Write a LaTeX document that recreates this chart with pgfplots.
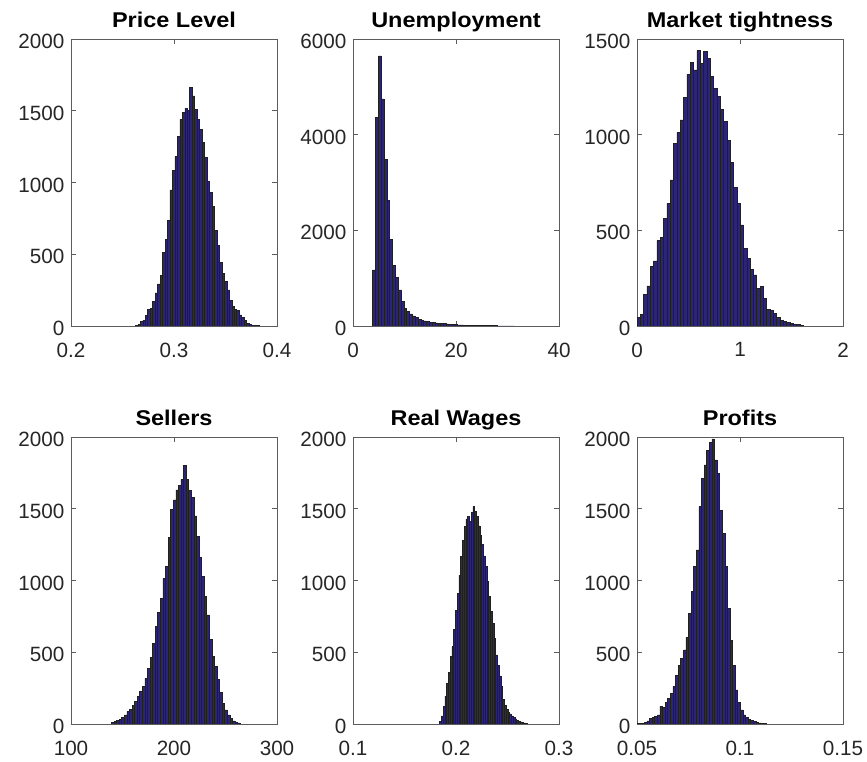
\documentclass[border=0pt]{standalone}
\usepackage{fontspec}
\setmainfont{Liberation Sans}
\newfontfamily\titlefont[FakeStretch=1.1]{Liberation Sans}
\usepackage{pgfplots}
\pgfplotsset{compat=1.18}

\definecolor{barfill}{RGB}{44,37,116}
\definecolor{baredge}{RGB}{32,32,32}
\definecolor{axgray}{RGB}{38,38,38}

\pgfplotsset{
  histax/.style={
    scale only axis,
    width=154.5pt, height=215.25pt,
    anchor=south west,
    axis line style={draw=axgray!75, line width=0.55pt},
    tick style={draw=axgray!75, line width=0.55pt},
    major tick length=3.75pt,
    tick align=inside,
    xtick pos=both, ytick pos=both,
    tick label style={font=\fontsize{15.5}{17}\selectfont, text=axgray},
    xticklabel style={yshift=-9pt},
    yticklabel style={xshift=-1.4pt, yshift=-1.8pt},
    title style={font=\titlefont\fontsize{16}{18}\selectfont\bfseries, at={(0.5,1)}, anchor=base, yshift=2.3pt},
    scaled ticks=false,
    ymin=0,
  },
  histbar/.style={
    ybar, bar shift=0pt, bar width=#1,
    fill=barfill, draw=baredge, line width=0.42pt,
  },
}

\begin{document}
\begin{tikzpicture}
\useasboundingbox (0,0) rectangle (650.25pt,571.5pt);

% ---------------- Price Level ----------------
\begin{axis}[histax, at={(53.25pt,327pt)},
  title={Price Level},
  xmin=0.2, xmax=0.4, ymax=2000,
  xtick={0.2,0.3,0.4}, xticklabels={0.2,0.3,0.4},
  ytick={0,500,1000,1500,2000}, yticklabels={0,500,1000,1500,2000}]
\addplot[histbar=0.0024] coordinates {
(0.2637,5) (0.2661,10) (0.2685,30) (0.2709,40) (0.2733,75)
(0.2757,118) (0.2781,125) (0.2805,174) (0.2829,230) (0.2853,293)
(0.2877,355) (0.2901,511) (0.2925,606) (0.2949,738) (0.2973,948)
(0.2997,1082) (0.3021,1180) (0.3045,1319) (0.3069,1440) (0.3093,1489)
(0.3117,1517) (0.3141,1505) (0.3165,1663) (0.3189,1603) (0.3213,1510)
(0.3237,1440) (0.3261,1370) (0.3285,1277) (0.3309,1175) (0.3333,1006)
(0.3357,932) (0.3381,831) (0.3405,664) (0.3429,564) (0.3453,441)
(0.3477,367) (0.3501,309) (0.3525,251) (0.3549,181) (0.3573,135)
(0.3597,116) (0.3621,107) (0.3645,77) (0.3669,60) (0.3693,37)
(0.3717,19) (0.3741,10) (0.3765,5) (0.3789,3) (0.3813,2)
};
\end{axis}

% ---------------- Unemployment ----------------
\begin{axis}[histax, at={(264.75pt,327pt)},
  title={Unemployment},
  xmin=0, xmax=40, ymax=6000,
  xtick={0,20,40}, xticklabels={0,20,40},
  ytick={0,2000,4000,6000}, yticklabels={0,2000,4000,6000}]
\addplot[histbar=0.55] coordinates {
(4.10,1171) (4.65,4363) (5.20,5645) (5.75,4746) (6.30,3485)
(6.85,2620) (7.40,1805) (7.95,1268) (8.50,1017) (9.05,753)
(9.60,509) (10.15,369) (10.70,300) (11.25,251) (11.80,209)
(12.35,181) (12.90,146) (13.45,125) (14.00,105) (14.55,90)
(15.10,77) (15.65,70) (16.20,63) (16.75,56) (17.30,56)
(17.85,49) (18.40,42) (18.95,35) (19.50,30) (20.05,28)
(20.60,25) (21.15,22) (21.70,20) (22.25,18) (22.80,16)
(23.35,14) (23.90,12) (24.45,11) (25.00,10) (25.55,9)
(26.10,8) (26.65,7) (27.20,6) (27.75,5) (28.30,4)
(28.85,4) (29.40,3) (29.95,2) (30.50,2) (31.05,1)
};
\end{axis}

% ---------------- Market tightness ----------------
\begin{axis}[histax, at={(477.75pt,327pt)},
  title={Market tightness},
  xmin=0, xmax=2, ymax=1500,
  xtick={0,1,2}, xticklabels={0,1,2},
  ytick={0,500,1000,1500}, yticklabels={0,500,1000,1500}]
\addplot[histbar=0.0323] coordinates {
(0.0160,45) (0.0483,61) (0.0806,166) (0.1129,209) (0.1452,310)
(0.1775,340) (0.2098,446) (0.2421,463) (0.2744,563) (0.3067,641)
(0.3390,763) (0.3713,955) (0.4036,1011) (0.4359,1077) (0.4682,1195)
(0.5005,1316) (0.5328,1378) (0.5651,1338) (0.5974,1439) (0.6297,1373)
(0.6620,1434) (0.6943,1397) (0.7266,1303) (0.7589,1242) (0.7912,1199)
(0.8235,1133) (0.8558,1068) (0.8881,972) (0.9204,854) (0.9527,725)
(0.9850,641) (1.0173,528) (1.0496,406) (1.0819,354) (1.1142,296)
(1.1465,267) (1.1788,195) (1.2111,206) (1.2434,145) (1.2757,87)
(1.3080,80) (1.3403,66) (1.3726,45) (1.4049,31) (1.4372,23)
(1.4695,17) (1.5018,14) (1.5341,10) (1.5664,7) (1.5987,5)
};
\end{axis}

% ---------------- Sellers ----------------
\begin{axis}[histax, at={(53.25pt,28.5pt)},
  title={Sellers},
  xmin=100, xmax=300, ymax=2000,
  xtick={100,200,300}, xticklabels={100,200,300},
  ytick={0,500,1000,1500,2000}, yticklabels={0,500,1000,1500,2000}]
\addplot[histbar=2.5] coordinates {
(140.5,9) (143,16) (145.5,23) (148,33) (150.5,44)
(153,63) (155.5,86) (158,102) (160.5,132) (163,160)
(165.5,190) (168,225) (170.5,260) (173,318) (175.5,388)
(178,465) (180.5,562) (183,678) (185.5,776) (188,876)
(190.5,1015) (193,1096) (195.5,1301) (198,1496) (200.5,1561)
(203,1631) (205.5,1663) (208,1705) (210.5,1800) (213,1705)
(215.5,1626) (218,1580) (220.5,1450) (223,1310) (225.5,1162)
(228,1027) (230.5,887) (233,760) (235.5,590) (238,469)
(240.5,404) (243,311) (245.5,218) (248,144) (250.5,98)
(253,63) (255.5,39) (258,21) (260.5,12) (263,7)
};
\end{axis}

% ---------------- Real Wages ----------------
\begin{axis}[histax, at={(264.75pt,28.5pt)},
  title={Real Wages},
  xmin=0.1, xmax=0.3, ymax=2000,
  xtick={0.1,0.2,0.3}, xticklabels={0.1,0.2,0.3},
  ytick={0,500,1000,1500,2000}, yticklabels={0,500,1000,1500,2000}]
\addplot[histbar=0.0017] coordinates {
(0.1850,16) (0.1867,56) (0.1884,121) (0.1901,195) (0.1918,283)
(0.1935,358) (0.1952,469) (0.1969,539) (0.1986,660) (0.2003,790)
(0.2020,911) (0.2037,1038) (0.2054,1166) (0.2071,1282) (0.2088,1375)
(0.2105,1429) (0.2122,1445) (0.2139,1410) (0.2156,1473) (0.2173,1515)
(0.2190,1480) (0.2207,1445) (0.2224,1380) (0.2241,1317) (0.2258,1254)
(0.2275,1171) (0.2292,1096) (0.2309,992) (0.2326,887) (0.2343,783)
(0.2360,702) (0.2377,597) (0.2394,481) (0.2411,411) (0.2428,335)
(0.2445,260) (0.2462,172) (0.2479,132) (0.2496,102) (0.2513,81)
(0.2530,70) (0.2547,56) (0.2564,44) (0.2581,35) (0.2598,23)
(0.2615,16) (0.2632,14) (0.2649,9) (0.2666,7) (0.2683,5)
};
\end{axis}

% ---------------- Profits ----------------
\begin{axis}[histax, at={(477.75pt,28.5pt)},
  title={Profits},
  xmin=0.05, xmax=0.15, ymax=2000,
  xtick={0.05,0.1,0.15}, xticklabels={0.05,0.1,0.15},
  ytick={0,500,1000,1500,2000}, yticklabels={0,500,1000,1500,2000}]
\addplot[histbar=0.00126] coordinates {
(0.05040,2) (0.05166,3) (0.05292,5) (0.05418,9) (0.05544,21)
(0.05670,40) (0.05796,46) (0.05922,51) (0.06048,63) (0.06174,125)
(0.06300,116) (0.06426,149) (0.06552,179) (0.06678,214) (0.06804,260)
(0.06930,341) (0.07056,411) (0.07182,458) (0.07308,516) (0.07434,604)
(0.07560,771) (0.07686,922) (0.07812,1096) (0.07938,1213) (0.08064,1515)
(0.08190,1712) (0.08316,1805) (0.08442,1905) (0.08568,1961) (0.08694,1986)
(0.08820,1840) (0.08946,1747) (0.09072,1491) (0.09198,1329) (0.09324,1096)
(0.09450,806) (0.09576,585) (0.09702,411) (0.09828,237) (0.09954,149)
(0.10080,98) (0.10206,63) (0.10332,44) (0.10458,33) (0.10584,23)
(0.10710,16) (0.10836,12) (0.10962,7) (0.11088,5) (0.11214,2)
};
\end{axis}
\end{tikzpicture}
\end{document}
